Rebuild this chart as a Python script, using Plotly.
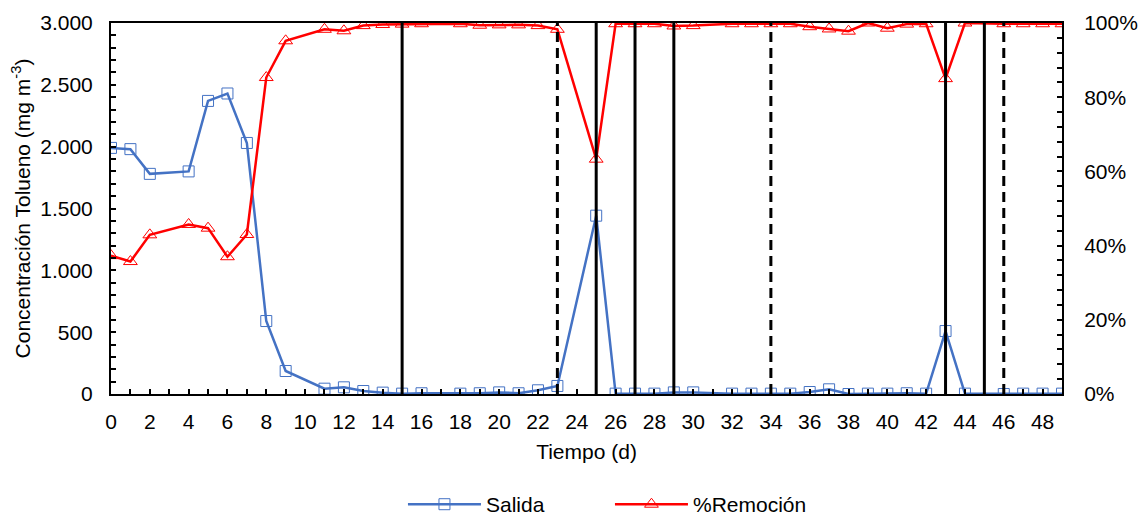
import plotly.graph_objects as go

# Días de muestreo
dias = [0, 1, 2, 4, 5, 6, 7, 8, 9, 11, 12, 13, 14, 15, 16, 18, 19, 20, 21, 22, 23,
        25, 26, 27, 28, 29, 30, 32, 33, 34, 35, 36, 37, 38, 39, 40, 41, 42, 43, 44,
        46, 47, 48, 49]

# Concentración de tolueno a la salida (mg m-3)
salida = [1990, 1980, 1780, 1800, 2370, 2430, 2030, 590, 186, 43, 54, 24, 11, 3, 6,
          3, 6, 13, 6, 30, 65, 1442, 3, 3, 3, 13, 13, 3, 3, 3, 3, 16, 38, 0, 3, 3,
          6, 3, 509, 3, 0, 3, 3, 3]

# Eficiencia de remoción (%)
remocion = [37.3, 35.7, 42.9, 45.7, 44.7, 37.0, 43.0, 85.3, 95.2, 98.3, 97.9, 99.3,
            99.6, 99.7, 99.8, 99.8, 99.4, 99.5, 99.5, 99.3, 98.3, 63.3, 99.8, 99.8,
            99.8, 99.2, 99.3, 99.8, 99.8, 99.8, 99.8, 99.0, 98.4, 97.8, 100.0, 98.6,
            99.7, 99.8, 85.0, 100.0, 99.8, 99.8, 99.8, 99.8]

# Días con cambios de operación
cambios_continuos = [15, 25, 27, 29, 43, 45]
cambios_discontinuos = [23, 34, 46]

FONT = "Liberation Sans, Arial, sans-serif"
FS = 21

fig = go.Figure()

fig.add_trace(go.Scatter(
    x=dias, y=salida, name="Salida", mode="lines+markers",
    line=dict(color="#4472C4", width=2.5),
    marker=dict(symbol="square-open", size=11, color="#4472C4",
                line=dict(width=1, color="#4472C4")),
    yaxis="y",
))

fig.add_trace(go.Scatter(
    x=dias, y=remocion, name="%Remoción", mode="lines+markers",
    line=dict(color="#FF0000", width=2.5),
    marker=dict(symbol="triangle-up-open", size=12, color="#FF0000",
                line=dict(width=1, color="#FF0000")),
    yaxis="y2",
))

shapes = []
for d in cambios_continuos:
    shapes.append(dict(type="line", xref="x", yref="paper", x0=d, x1=d, y0=0, y1=1,
                       line=dict(color="black", width=3)))
for d in cambios_discontinuos:
    shapes.append(dict(type="line", xref="x", yref="paper", x0=d, x1=d, y0=0, y1=1,
                       line=dict(color="black", width=3, dash="10px,6px")))

fig.update_layout(
    width=1140, height=517,
    margin=dict(l=111, r=78, t=23, b=123, autoexpand=False),
    paper_bgcolor="white", plot_bgcolor="white",
    font=dict(family=FONT, size=FS, color="black"),
    separators=",.",
    showlegend=True,
    legend=dict(orientation="h", x=0.307, xanchor="left", y=-0.298, yanchor="middle",
                font=dict(size=FS), entrywidth=119, itemwidth=73),
    shapes=shapes,
    xaxis=dict(
        range=[0, 49], tickmode="linear", tick0=0, dtick=2,
        ticks="inside", ticklen=5, tickwidth=2, tickcolor="black",
        minor=dict(dtick=1, ticks="inside", ticklen=5, tickwidth=2, tickcolor="black"),
        showline=True, linecolor="black", linewidth=2, mirror=True,
        showgrid=False, zeroline=False, automargin=False,
        ticklabelstandoff=8,
        title=dict(text="Tiempo (d)", font=dict(size=FS), standoff=12),
    ),
    yaxis=dict(
        range=[0, 3000], tickmode="linear", tick0=0, dtick=500, tickformat=",d",
        ticks="inside", ticklen=5, tickwidth=2, tickcolor="black",
        minor=dict(dtick=100, ticks="inside", ticklen=5, tickwidth=2, tickcolor="black"),
        showline=True, linecolor="black", linewidth=2,
        showgrid=False, zeroline=False, automargin=False,
        ticklabelstandoff=12,
        title=dict(text="Concentración Tolueno (mg m<sup>-3</sup>)", font=dict(size=FS),
                   standoff=4),
    ),
    yaxis2=dict(
        range=[0, 100], overlaying="y", side="right",
        tickmode="linear", tick0=0, dtick=20, ticksuffix="%",
        ticks="inside", ticklen=5, tickwidth=2, tickcolor="black",
        minor=dict(dtick=4, ticks="inside", ticklen=5, tickwidth=2, tickcolor="black"),
        showline=True, linecolor="black", linewidth=2,
        showgrid=False, zeroline=False, automargin=False,
        ticklabelstandoff=16,
    ),
)

fig.write_html("out.html")
